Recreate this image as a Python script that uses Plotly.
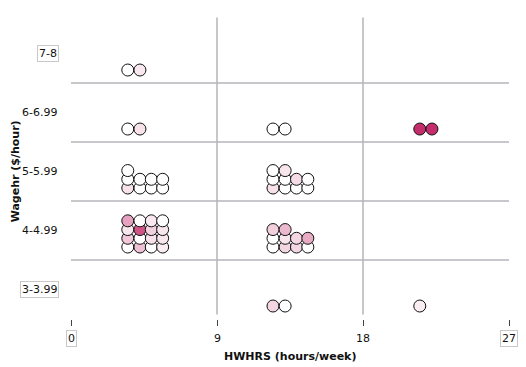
import plotly.graph_objects as go

# ---- data ----
wage_levels = ["3-3.99", "4-4.99", "5-5.99", "6-6.99", "7-8"]

# each dot: wage category, hours/week, shade (colour variable 0..1)
wage = (["7-8"] * 2
        + ["6-6.99"] * 6
        + ["5-5.99"] * 19
        + ["4-4.99"] * 26
        + ["3-3.99"] * 3)

hours = ([3.5, 4.25]
         + [3.5, 4.25, 12.45, 13.2, 21.5, 22.25]
         # 5-5.99 left
         + [3.5, 3.5, 3.5, 4.25, 4.25, 4.95, 4.95, 5.65, 5.65]
         # 5-5.99 right
         + [12.45, 12.45, 12.45, 13.2, 13.2, 13.2, 13.9, 13.9, 14.6, 14.6]
         # 4-4.99 left
         + [3.5] * 4 + [4.25] * 4 + [4.95] * 4 + [5.65] * 4
         # 4-4.99 right
         + [12.45] * 3 + [13.2] * 3 + [13.9] * 2 + [14.6] * 2
         # 3-3.99
         + [12.45, 13.2, 21.5])

shade = ([0.0, 0.11]
         + [0.0, 0.14, 0.0, 0.0, 1.0, 1.0]
         + [0.14, 0.0, 0.0, 0.0, 0.0, 0.0, 0.0, 0.0, 0.0]
         + [0.15, 0.0, 0.0, 0.0, 0.0, 0.12, 0.0, 0.17, 0.0, 0.0]
         + [0.0, 0.26, 0.12, 0.45,
            0.30, 0.0, 0.82, 0.0,
            0.0, 0.15, 0.22, 0.11,
            0.08, 0.12, 0.12, 0.0]
         + [0.0, 0.0, 0.23, 0.20, 0.12, 0.34, 0.20, 0.20, 0.0, 0.41]
         + [0.20, 0.0, 0.08])

x_tick_vals = [0, 9, 18, 27]
x_tick_text = ["0", "9", "18", "27"]
x_title = "HWHRS (hours/week)"
y_title = "Wagehr ($/hour)"

# ---- stacking (dot plot) ----
STACK_BASE = -0.28
STACK_STEP = 0.148
counts = {}
ys = []
for w, h in zip(wage, hours):
    key = (w, h)
    lvl = counts.get(key, 0)
    counts[key] = lvl + 1
    ys.append(wage_levels.index(w) + STACK_BASE + STACK_STEP * lvl)

fig = go.Figure()
fig.add_trace(go.Scatter(
    x=hours, y=ys, mode="markers",
    marker=dict(size=12, color=shade, cmin=0, cmax=1,
                colorscale=[[0, "#ffffff"], [1, "#c62d6c"]],
                line=dict(color="#111111", width=1)),
    hoverinfo="skip", showlegend=False))

shapes = []
# horizontal band separators
for i in range(len(wage_levels) - 1):
    shapes.append(dict(type="line", xref="x", yref="y", x0=0, x1=27,
                       y0=i + 0.5, y1=i + 0.5,
                       line=dict(color="#c8c8cc", width=2)))
# vertical grid lines
for v in x_tick_vals[1:-1]:
    shapes.append(dict(type="line", xref="x", yref="paper", x0=v, x1=v,
                       y0=0.015, y1=1.022,
                       line=dict(color="#b4b4b8", width=1.5)))

FONT = "DejaVu Sans"
annotations = []
for v, t in zip(x_tick_vals, x_tick_text):
    boxed = v in (x_tick_vals[0], x_tick_vals[-1])
    annotations.append(dict(
        x=v, y=-0.065, xref="x", yref="paper", text=t, showarrow=False,
        xanchor="center", yanchor="middle",
        font=dict(family=FONT, size=11, color="#111"),
        bordercolor="#c8c8c8" if boxed else "rgba(0,0,0,0)",
        borderwidth=1, borderpad=1))
for i, t in enumerate(wage_levels):
    boxed = i in (0, len(wage_levels) - 1)
    annotations.append(dict(
        x=-0.028, y=i, xref="paper", yref="y", text=t, showarrow=False,
        xanchor="right", yanchor="middle",
        font=dict(family=FONT, size=11, color="#111"),
        bordercolor="#c8c8c8" if boxed else "rgba(0,0,0,0)",
        borderwidth=1, borderpad=1))
annotations.append(dict(
    x=0.5, y=-0.128, xref="paper", yref="paper", text="<b>" + x_title + "</b>",
    showarrow=False, xanchor="center", yanchor="middle",
    font=dict(family=FONT, size=11, color="#111")))
annotations.append(dict(
    x=-0.126, y=0.5, xref="paper", yref="paper", text="<b>" + y_title + "</b>",
    showarrow=False, textangle=-90, xanchor="center", yanchor="middle",
    font=dict(family=FONT, size=11, color="#111")))

# the page body has an 8px margin, so the figure is shrunk by 8px and
# the left/top margins reduced to keep the plot area where the reference has it
fig.update_layout(
    width=518, height=359,
    margin=dict(l=63, r=17, t=16, b=48),
    paper_bgcolor="white", plot_bgcolor="white",
    shapes=shapes, annotations=annotations,
    xaxis=dict(range=[0, 27], tickvals=x_tick_vals,
               ticktext=[""] * len(x_tick_vals), ticks="outside",
               ticklen=6, tickwidth=1, tickcolor="#444",
               showgrid=False, zeroline=False, showline=False,
               fixedrange=True),
    yaxis=dict(range=[-0.5, len(wage_levels) - 0.5], showticklabels=False,
               showgrid=False, zeroline=False, showline=False, ticks="",
               fixedrange=True),
)

fig.write_html("out.html")
